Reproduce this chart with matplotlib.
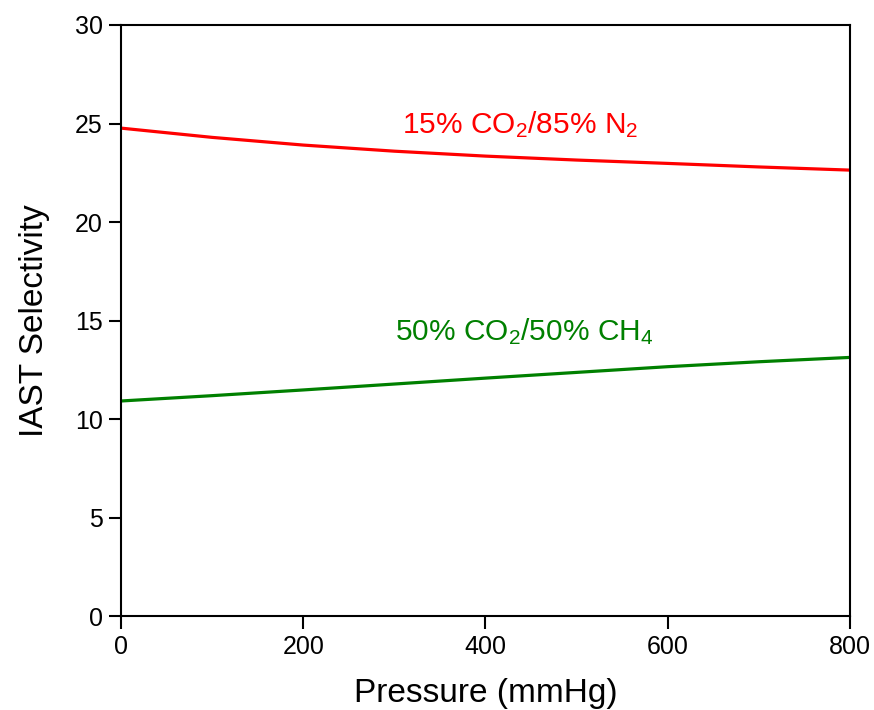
import numpy as np
import matplotlib.pyplot as plt

plt.rcParams['font.family'] = ['Liberation Sans', 'DejaVu Sans']
plt.rcParams['mathtext.fontset'] = 'custom'
plt.rcParams['mathtext.rm'] = 'Liberation Sans'
plt.rcParams['mathtext.it'] = 'Liberation Sans:italic'
plt.rcParams['mathtext.default'] = 'rm'

# IAST selectivity vs pressure for two gas mixtures
pressure = [0, 100, 200, 300, 400, 500, 600, 700, 800]
sel_co2_n2 = [24.77, 24.30, 23.91, 23.60, 23.35, 23.15, 22.98, 22.80, 22.64]
sel_co2_ch4 = [10.93, 11.20, 11.49, 11.79, 12.09, 12.38, 12.67, 12.92, 13.14]

fig = plt.figure(figsize=(8.74, 7.10), dpi=100)
ax = fig.add_axes([0.1384, 0.1317, 0.8341, 0.8331])

ax.plot(pressure, sel_co2_n2, color='#ff0000', lw=2.3)
ax.plot(pressure, sel_co2_ch4, color='#008000', lw=2.3)

ax.text(438, 24.52, r'15% CO$_2$/85% N$_2$', color='#ff0000', fontsize=21.5,
        ha='center', va='baseline')
ax.text(443, 14.02, r'50% CO$_2$/50% CH$_4$', color='#008000', fontsize=21.5,
        ha='center', va='baseline')

ax.set_xlim(0, 800)
ax.set_ylim(0, 30)
ax.set_xticks([0, 200, 400, 600, 800])
ax.set_yticks([0, 5, 10, 15, 20, 25, 30])
ax.tick_params(direction='out', length=9, width=1.5, labelsize=18, pad=4)
for s in ax.spines.values():
    s.set_linewidth(1.5)

ax.set_xlabel('Pressure (mmHg)', fontsize=24, labelpad=14)
ax.set_ylabel('IAST Selectivity', fontsize=24, labelpad=18)

fig.savefig('out.png', dpi=100)
